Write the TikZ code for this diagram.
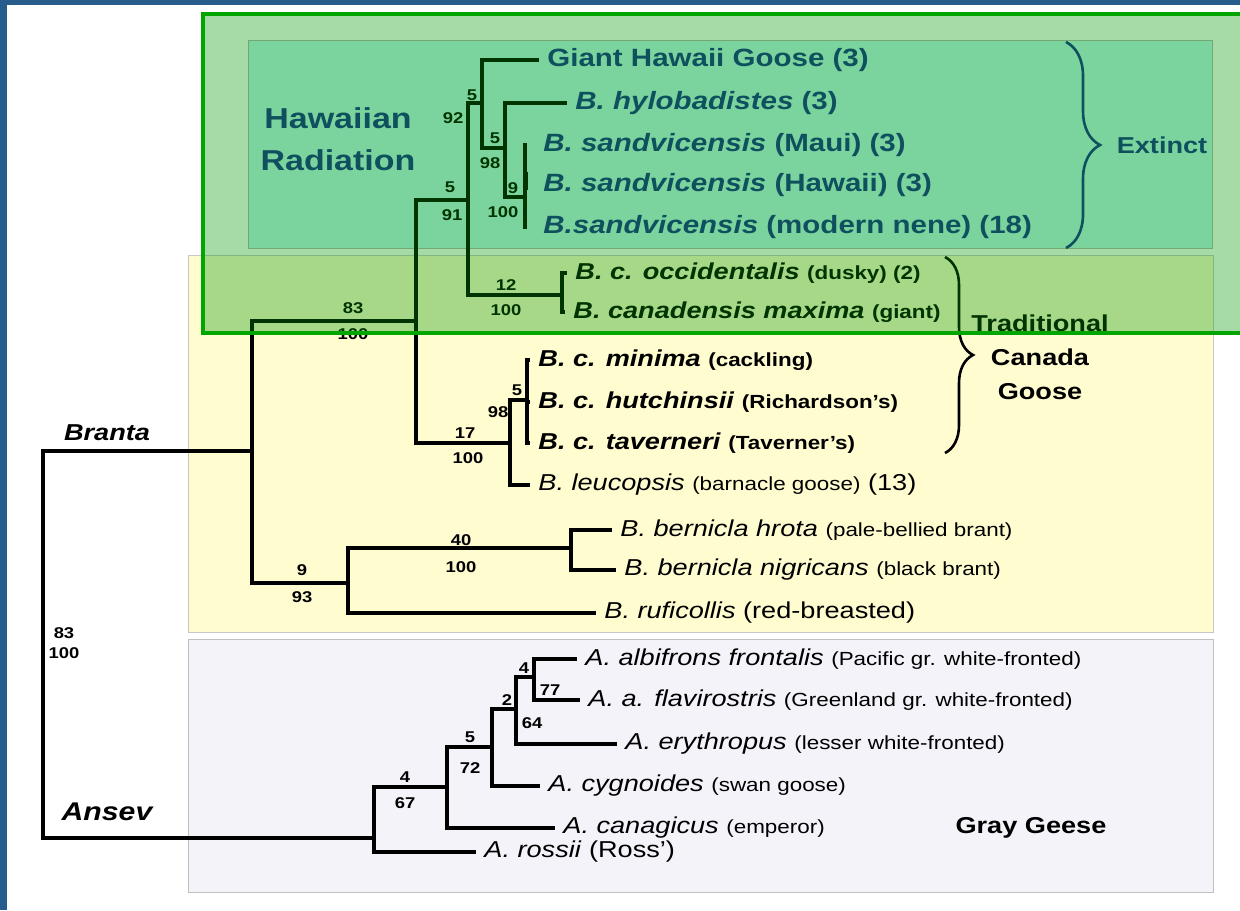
\documentclass[tikz,border=0pt]{standalone}
\usepackage{fontspec}
\setmainfont{Liberation Sans}[FakeStretch=1.18]
\usetikzlibrary{decorations.pathreplacing}

\definecolor{frameblue}{RGB}{40,92,140}
\definecolor{hawaiifill}{RGB}{190,246,244}
\definecolor{hawaiitext}{RGB}{24,44,146}
\definecolor{brantafill}{RGB}{255,252,208}
\definecolor{ansevfill}{RGB}{243,243,249}
\definecolor{overlaygreen}{RGB}{0,150,0}
\definecolor{markgreen}{RGB}{0,165,0}

\newcommand{\comname}[1]{{\fontsize{9.5}{11}\selectfont #1}}

\tikzset{
    branch/.style={line width=1.6pt},
    groupbox/.style={line width=0.5pt},
    leaf/.style={anchor=west, inner xsep=4pt, inner ysep=1pt, font=\fontsize{11.5}{13}\selectfont},
    boldleaf/.style={leaf, font=\fontsize{11.5}{13}\selectfont\bfseries},
    hawaiileaf/.style={leaf, text=hawaiitext, font=\fontsize{12.5}{14}\selectfont\bfseries},
    support/.style={inner sep=0pt, font=\fontsize{7.8}{9}\selectfont\bfseries},
    clade/.style={font=\fontsize{11.5}{13}\selectfont\bfseries\itshape},
    grouplabel/.style={align=center, font=\fontsize{11.5}{17}\selectfont\bfseries},
    curly/.style={decorate, decoration={brace, amplitude=#1}, line width=1.3pt}
}

\begin{document}
\begin{tikzpicture}[x=0.5pt, y=-0.5pt]
    \clip (0,0) rectangle (1240,910);
    \fill[frameblue] (0,0) rectangle (1240,910);
    \fill[white] (7,5) rectangle (1240,910);
    \filldraw[groupbox, fill=brantafill, draw=black!22] (188,255) rectangle (1213,632);
    \filldraw[groupbox, fill=ansevfill, draw=black!25] (188,639) rectangle (1213,892);
    \filldraw[groupbox, fill=hawaiifill, draw=black!30] (248,40) rectangle (1212,248);

    \coordinate (root) at (43,645);
    \coordinate (branta) at (252,451);
    \coordinate (ansev) at (374,838);
    \coordinate (core) at (416,321);
    \coordinate (hawcan) at (468,200);
    \coordinate (haw) at (482,103);
    \coordinate (hylsan) at (505,148);
    \coordinate (sand) at (525,197);
    \coordinate (canada) at (562,295);
    \coordinate (small) at (510,443);
    \coordinate (cackling) at (527,400);
    \coordinate (brant) at (348,583);
    \coordinate (bernicla) at (571,548);
    \coordinate (gray4) at (447,787);
    \coordinate (gray5) at (492,747);
    \coordinate (gray2) at (516,709);
    \coordinate (gray77) at (534,677);

    \node[hawaiileaf] (giant) at (539,60) {Giant Hawaii Goose (3)};
    \node[hawaiileaf] (hylob) at (567,103) {\textit{B. hylobadistes} (3)};
    \node[hawaiileaf] (maui) at (535,145) {\textit{B. sandvicensis} (Maui) (3)};
    \node[hawaiileaf] (hawaii) at (535,185) {\textit{B. sandvicensis} (Hawaii) (3)};
    \node[hawaiileaf] (nene) at (535,227) {\textit{B.sandvicensis} (modern nene) (18)};
    \node[boldleaf] (occ) at (567,273) {\textit{B. c. occidentalis} \comname{(dusky) (2)}};
    \node[boldleaf] (max) at (565,312) {\textit{B. canadensis maxima} \comname{(giant)}};
    \node[boldleaf] (minima) at (530,360) {\textit{B. c. minima} \comname{(cackling)}};
    \node[boldleaf] (hutch) at (530,402) {\textit{B. c. hutchinsii} \comname{(Richardson's)}};
    \node[boldleaf] (tav) at (530,443) {\textit{B. c. taverneri} \comname{(Taverner's)}};
    \node[leaf] (leuc) at (530,485) {\textit{B. leucopsis} \comname{(barnacle goose)} (13)};
    \node[leaf] (hrota) at (612,530) {\textit{B. bernicla hrota} \comname{(pale-bellied brant)}};
    \node[leaf] (nigr) at (616,570) {\textit{B. bernicla nigricans} \comname{(black brant)}};
    \node[leaf] (rufi) at (596,613) {\textit{B. ruficollis} (red-breasted)};
    \node[leaf] (albi) at (577,659) {\textit{A. albifrons frontalis} \comname{(Pacific gr. white-fronted)}};
    \node[leaf] (flav) at (580,700) {\textit{A. a. flavirostris} \comname{(Greenland gr. white-fronted)}};
    \node[leaf] (eryth) at (617,744) {\textit{A. erythropus} \comname{(lesser white-fronted)}};
    \node[leaf] (cygn) at (540,786) {\textit{A. cygnoides} \comname{(swan goose)}};
    \node[leaf] (canag) at (555,828) {\textit{A. canagicus} \comname{(emperor)}};
    \node[leaf] (rossii) at (476,852) {\textit{A. rossii} (Ross')};

    \draw[branch] (root) |- (branta);
    \draw[branch] (root) |- (ansev);
    \draw[branch] (branta) |- (core);
    \draw[branch] (branta) |- (brant);
    \draw[branch] (core) |- (hawcan);
    \draw[branch] (core) |- (small);
    \draw[branch] (hawcan) |- (haw);
    \draw[branch] (hawcan) |- (canada);
    \draw[branch] (haw) |- (giant.west);
    \draw[branch] (haw) |- (hylsan);
    \draw[branch] (hylsan) |- (hylob.west);
    \draw[branch] (hylsan) |- (sand);
    \draw[branch] (sand |- maui.west) ++(0,-2) -- ([yshift=-1pt]sand |- nene.west);
    \draw[line width=2.4pt] (sand |- hawaii.west) ++(1,-13) -- ++(0,18);
    \draw[branch] (canada) |- (occ.west);
    \draw[branch] (canada) |- (max.west);
    \draw[branch] (small) |- (cackling);
    \draw[branch] (small) |- (leuc.west);
    \draw[branch] (cackling) |- (minima.west);
    \draw[branch] (cackling) |- (hutch.west);
    \draw[branch] (cackling) |- (tav.west);
    \draw[branch] (brant) |- (bernicla);
    \draw[branch] (brant) |- (rufi.west);
    \draw[branch] (bernicla) |- (hrota.west);
    \draw[branch] (bernicla) |- (nigr.west);
    \draw[branch] (ansev) |- (gray4);
    \draw[branch] (ansev) |- (rossii.west);
    \draw[branch] (gray4) |- (gray5);
    \draw[branch] (gray4) |- (canag.west);
    \draw[branch] (gray5) |- (gray2);
    \draw[branch] (gray5) |- (cygn.west);
    \draw[branch] (gray2) |- (gray77);
    \draw[branch] (gray2) |- (eryth.west);
    \draw[branch] (gray77) |- (albi.west);
    \draw[branch] (gray77) |- (flav.west);

    \node[support] (s-hawcan) at (450,187) {5};
    \node[support] (b-hawcan) at (452,215) {91};
    \node[support] (s-haw) at (472,95) {5};
    \node[support] (b-haw) at (453,118) {92};
    \node[support] (s-hylsan) at (495,138) {5};
    \node[support] (b-hylsan) at (490,163) {98};
    \node[support] (s-sand) at (513,188) {9};
    \node[support] (b-sand) at (503,212) {100};
    \node[support] (s-canada) at (506,285) {12};
    \node[support] (b-canada) at (506,310) {100};
    \node[support] (s-core) at (353,308) {83};
    \node[support] (b-core) at (353,334) {100};
    \node[support] (s-small) at (465,433) {17};
    \node[support] (b-small) at (468,458) {100};
    \node[support] (s-cackling) at (517,390) {5};
    \node[support] (b-cackling) at (498,412) {98};
    \node[support] (s-brant) at (302,570) {9};
    \node[support] (b-brant) at (302,597) {93};
    \node[support] (s-bernicla) at (461,540) {40};
    \node[support] (b-bernicla) at (461,567) {100};
    \node[support] (s-root) at (64,633) {83};
    \node[support] (b-root) at (64,653) {100};
    \node[support] (s-gray4) at (405,777) {4};
    \node[support] (b-gray4) at (405,803) {67};
    \node[support] (s-gray5) at (470,737) {5};
    \node[support] (b-gray5) at (470,768) {72};
    \node[support] (s-gray2) at (507,700) {2};
    \node[support] (b-gray2) at (532,723) {64};
    \node[support] (s-gray77) at (524,668) {4};
    \node[support] (b-gray77) at (550,690) {77};

    \node[clade] (brantalabel) at (107,433) {Branta};
    \node[clade, font=\fontsize{12.8}{14}\selectfont\bfseries\itshape] (ansevlabel) at (107,812) {Ansev};
    \node[grouplabel, text=hawaiitext, font=\fontsize{14.4}{21}\selectfont\bfseries] (radiation) at (338,139) {Hawaiian\\Radiation};
    \node[grouplabel, text=hawaiitext] (extinct) at (1162,145) {Extinct};
    \node[grouplabel] (traditional) at (1040,357) {Traditional\\Canada\\Goose};
    \node[grouplabel] (graygeese) at (1031,828) {Gray Geese};

    \draw[curly=17pt, hawaiitext] (1066,42) -- (1066,248);
    \draw[curly=14pt] (945,257) -- (945,453);

    \draw[draw=markgreen, line width=2pt, fill=overlaygreen, fill opacity=0.35] (203,14) rectangle (1250,333);
\end{tikzpicture}
\end{document}
